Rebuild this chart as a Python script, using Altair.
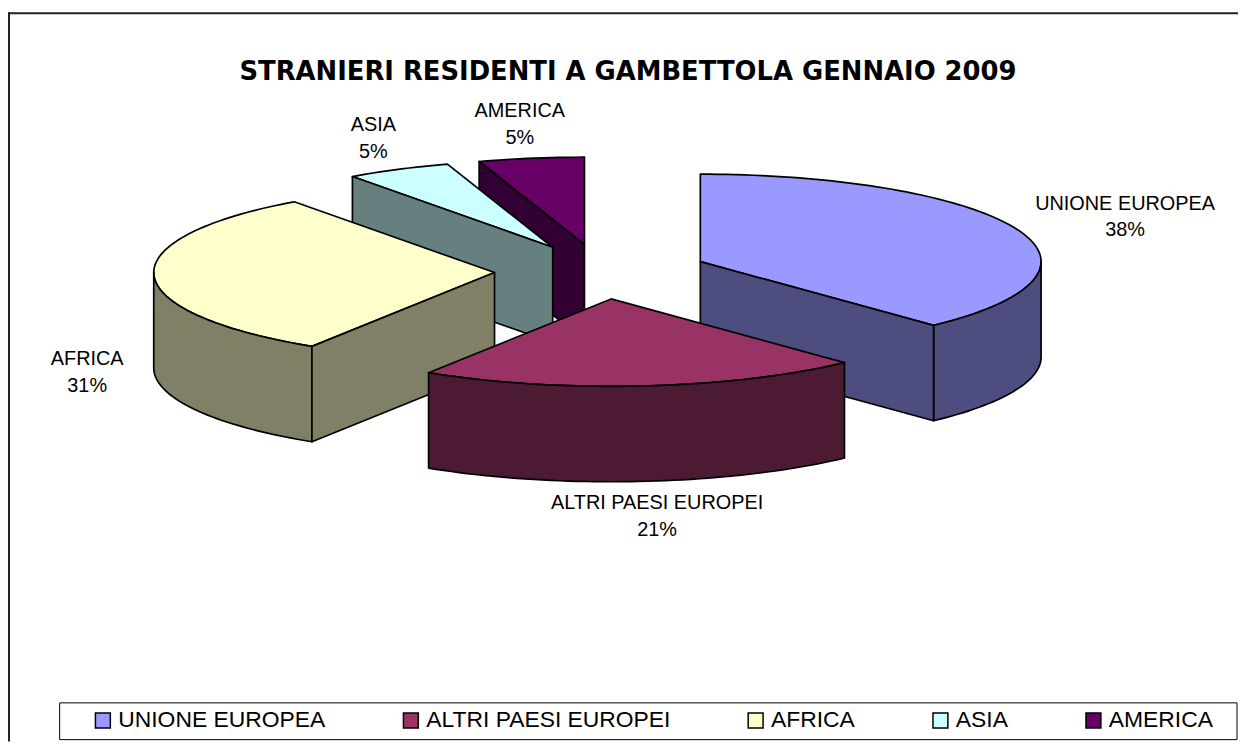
import numpy as np
import pandas as pd
import altair as alt

# ---------------- data ----------------
categories = ["UNIONE EUROPEA", "ALTRI PAESI EUROPEI", "AFRICA", "ASIA", "AMERICA"]
values = [38, 21, 31, 5, 5]          # share of foreign residents, %
top_colors = ["#9999FF", "#993366", "#FFFFCC", "#CCFFFF", "#660066"]
side_colors = ["#4D4D80", "#4D1A33", "#808066", "#668080", "#330033"]
title_text = "STRANIERI RESIDENTI A GAMBETTOLA GENNAIO 2009"

# ---------------- layout (page pixel space) ----------------
PAGE = 8
W, H = 1238, 736
CX, CY = 605, 271        # pie centre
RX, RY = 343, 88         # ellipse radii of the tilted pie
DEPTH = 96               # thickness of the 3D pie
EXPLODE = 0.313          # explosion, fraction of the radius
LABEL_FS = 20
SIDE_SUFFIX = " (lato)"

total = float(sum(values))
frac = np.array(values, dtype=float) / total
ends = np.cumsum(frac) * 360.0
starts = ends - frac * 360.0

poly_rows = []
label_rows = []
slice_centres = []
for k, cat in enumerate(categories):
    a0, a1 = starts[k], ends[k]
    mid = np.radians((a0 + a1) / 2.0)
    cx = CX + EXPLODE * RX * np.sin(mid)
    cy = CY - EXPLODE * RY * np.cos(mid)
    slice_centres.append(cy)

    def P(deg, d=0.0, cx=cx, cy=cy):
        t = np.radians(deg)
        return (cx + RX * np.sin(t), cy - RY * np.cos(t) + d)

    faces = []
    arc = np.linspace(a0, a1, max(3, int((a1 - a0) / 1.5) + 2))
    faces.append(("top", [(cx, cy)] + [P(a) for a in arc]))
    s0, s1 = max(a0, 90.0), min(a1, 270.0)
    if s1 > s0:
        sarc = np.linspace(s0, s1, max(3, int((s1 - s0) / 1.5) + 2))
        faces.append(("side", [P(a) for a in sarc] + [P(a, DEPTH) for a in sarc[::-1]]))
    if np.sin(np.radians(a0)) < -1e-6:
        x0, y0 = P(a0)
        faces.append(("side", [(cx, cy), (x0, y0), (x0, y0 + DEPTH), (cx, cy + DEPTH)]))
    if np.sin(np.radians(a1)) > 1e-6:
        x1, y1 = P(a1)
        faces.append(("side", [(cx, cy), (x1, y1), (x1, y1 + DEPTH), (cx, cy + DEPTH)]))
    for j, (kind, pts) in enumerate(faces):
        key = cat if kind == "top" else cat + SIDE_SUFFIX
        for i, (px, py) in enumerate(pts):
            poly_rows.append({"cat": cat, "face": f"{k}-{j}", "key": key,
                              "i": i, "x": px, "y": py})

    # data label, placed outside the slice along its mid angle
    ex, ey = P(np.degrees(mid))
    pct = f"{int(round(frac[k] * 100))}%"
    hw = max(len(cat), len(pct)) * 0.31 * LABEL_FS
    lx = ex + np.sin(mid) * (30 + hw)
    ly = ey - np.cos(mid) * 35 + (DEPTH if np.cos(mid) < 0 else 0)
    label_rows.append({"cat": cat, "pct": pct, "lx": lx, "ly": ly})

polys = pd.DataFrame(poly_rows)
labels = pd.DataFrame(label_rows)

xs = alt.Scale(domain=[PAGE, PAGE + W], nice=False, zero=False)
ys = alt.Scale(domain=[PAGE, PAGE + H], nice=False, zero=False, reverse=True)

fill_scale = alt.Scale(domain=categories + [c + SIDE_SUFFIX for c in categories],
                       range=top_colors + side_colors)
legend = alt.Legend(values=categories, orient="none", legendX=84, legendY=703,
                    direction="horizontal", title=None, padding=0,
                    symbolType="square", symbolSize=225, symbolStrokeColor="black",
                    symbolStrokeWidth=1.5, labelFont="Liberation Sans", labelFontSize=23,
                    labelColor="black", labelOffset=4, labelLimit=400, columnPadding=74)

one = pd.DataFrame({"a": [0]})
frame_v = alt.Chart(one).mark_rule(color="#222222", strokeWidth=2).encode(
    x=alt.value(1), y=alt.value(2), y2=alt.value(H))
frame_h = alt.Chart(one).mark_rule(color="#222222", strokeWidth=2).encode(
    x=alt.value(0), x2=alt.value(W), y=alt.value(3))
legend_box = alt.Chart(one).mark_rect(fill="white", stroke="black", strokeWidth=1).encode(
    x=alt.value(52), x2=alt.value(W - 1), y=alt.value(697), y2=alt.value(H - 2))

slice_layers = []
for k in np.argsort(slice_centres):
    cat = categories[k]
    layer = alt.Chart(polys).transform_filter(alt.datum.cat == cat).mark_line(
        interpolate="linear-closed", stroke="black", strokeWidth=1.7, strokeJoin="round"
    ).encode(
        x=alt.X("x:Q", scale=xs, axis=None),
        y=alt.Y("y:Q", scale=ys, axis=None),
        fill=alt.Fill("key:N", scale=fill_scale, legend=legend),
        detail="face:N",
        order="i:Q",
    )
    slice_layers.append(layer)

label_name = alt.Chart(labels).mark_text(
    font="Liberation Sans", fontSize=LABEL_FS, color="black", baseline="middle", dy=-13
).encode(x=alt.X("lx:Q", scale=xs, axis=None), y=alt.Y("ly:Q", scale=ys, axis=None), text="cat:N")
label_pct = alt.Chart(labels).mark_text(
    font="Liberation Sans", fontSize=LABEL_FS, color="black", baseline="middle", dy=14
).encode(x=alt.X("lx:Q", scale=xs, axis=None), y=alt.Y("ly:Q", scale=ys, axis=None), text="pct:N")

title = alt.Chart(one).mark_text(
    font="DejaVu Sans", fontWeight="bold", fontSize=26, color="black", baseline="middle"
).encode(x=alt.value(624), y=alt.value(62), text=alt.value(title_text))

chart = alt.layer(frame_v, frame_h, legend_box, *slice_layers, label_name, label_pct, title).properties(
    width=W, height=H, padding=0,
    autosize=alt.AutoSizeParams(type="none"),
).configure_view(stroke=None)

chart.save("out.html", embed_options={"renderer": "svg", "actions": False})
